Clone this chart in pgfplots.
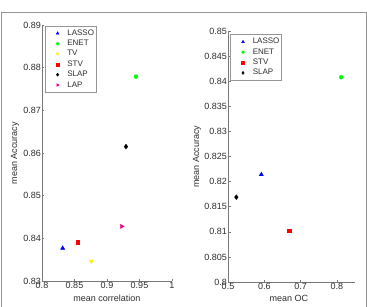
\documentclass[border=0pt]{standalone}
\usepackage{fontspec}
\setmainfont{Liberation Sans}
\usepackage{pgfplots}
\pgfplotsset{compat=1.18}

\definecolor{axisgray}{RGB}{120,120,120}
\definecolor{textgray}{RGB}{45,45,45}
\definecolor{framegray}{RGB}{150,150,150}

\pgfplotsset{
  scatterstyle/.style={
    scale only axis,
    axis x line*=bottom,
    axis y line*=left,
    axis line style={axisgray, line width=0.6pt},
    tick style={axisgray, line width=0.5pt},
    tick align=inside,
    major tick length=2.5pt,
    font=\fontsize{9}{10}\selectfont,
    tick label style={textgray, font=\fontsize{9}{10}\selectfont, inner sep=0.8pt},
    label style={textgray, font=\fontsize{9}{10}\selectfont},
    /pgf/number format/assume math mode=true,
    /pgf/number format/fixed,
    /pgf/number format/precision=3,
    scaled ticks=false,
    legend cell align=left,
    legend image code/.code={
      \path (0pt,0pt) (20pt,0pt);
      \draw[##1, mark size=1.5pt] plot coordinates {(12.5pt,0pt)};
    },
    legend style={draw=framegray, fill=white, line width=0.5pt,
      font=\fontsize{8}{9}\selectfont, text=textgray,
      inner xsep=0pt, inner ysep=2pt, row sep=-0.7pt, anchor=north west},
    only marks,
  },
}

\begin{document}
\begin{tikzpicture}[x=1pt,y=1pt]
\useasboundingbox (0,0) rectangle (367,306);
\draw[framegray, line width=0.8pt] (1,-5) -- (1,294) -- (366,294) -- (366,-5);

% accuracy versus correlation
\begin{axis}[scatterstyle,
  at={(42pt,25pt)}, anchor=south west,
  width=130pt, height=256pt,
  xmin=0.8, xmax=1, ymin=0.83, ymax=0.89,
  xtick={0.8,0.85,0.9,0.95,1},
  ytick={0.83,0.84,0.85,0.86,0.87,0.88,0.89},
  xlabel={mean correlation}, ylabel={mean Accuracy},
  xlabel style={at={(axis description cs:0.5,-0.068)}, anchor=center},
  ylabel style={at={(axis description cs:-0.208,0.5)}, anchor=center},
  legend style={at={(axis description cs:0.02,0.998)}},
]
\addplot[mark=triangle*, mark size=2.4pt, blue] coordinates {(0.8318,0.8377)};
\addlegendentry{LASSO}
\addplot[mark=*, mark size=2pt, green] coordinates {(0.9446,0.8779)};
\addlegendentry{ENET}
\addplot[mark=triangle*, mark size=2.4pt, mark options={rotate=180}, yellow] coordinates {(0.8759,0.8346)};
\addlegendentry{TV}
\addplot[mark=square*, mark size=1.6pt, red] coordinates {(0.8554,0.8391)};
\addlegendentry{STV}
\addplot[mark=diamond*, mark size=2.4pt, black] coordinates {(0.9292,0.8615)};
\addlegendentry{SLAP}
\addplot[mark=triangle*, mark size=2.4pt, mark options={rotate=-90}, magenta] coordinates {(0.9226,0.8428)};
\addlegendentry{LAP}
\end{axis}

% accuracy versus overlap coefficient
\begin{axis}[scatterstyle,
  at={(228pt,24pt)}, anchor=south west,
  width=127pt, height=251pt,
  xmin=0.5, xmax=0.85, ymin=0.8, ymax=0.85,
  xtick={0.5,0.6,0.7,0.8},
  ytick={0.8,0.805,0.81,0.815,0.82,0.825,0.83,0.835,0.84,0.845,0.85},
  xlabel={mean OC}, ylabel={mean Accuracy},
  xlabel style={at={(axis description cs:0.48,-0.066)}, anchor=center},
  ylabel style={at={(axis description cs:-0.244,0.5)}, anchor=center},
  legend style={at={(axis description cs:0.016,0.988)}},
]
\addplot[mark=triangle*, mark size=2.4pt, blue] coordinates {(0.5917,0.8214)};
\addlegendentry{LASSO}
\addplot[mark=*, mark size=2pt, green] coordinates {(0.8119,0.8408)};
\addlegendentry{ENET}
\addplot[mark=square*, mark size=1.6pt, red] coordinates {(0.6688,0.8102)};
\addlegendentry{STV}
\addplot[mark=diamond*, mark size=2.4pt, black] coordinates {(0.5230,0.8169)};
\addlegendentry{SLAP}
\end{axis}
\end{tikzpicture}
\end{document}
